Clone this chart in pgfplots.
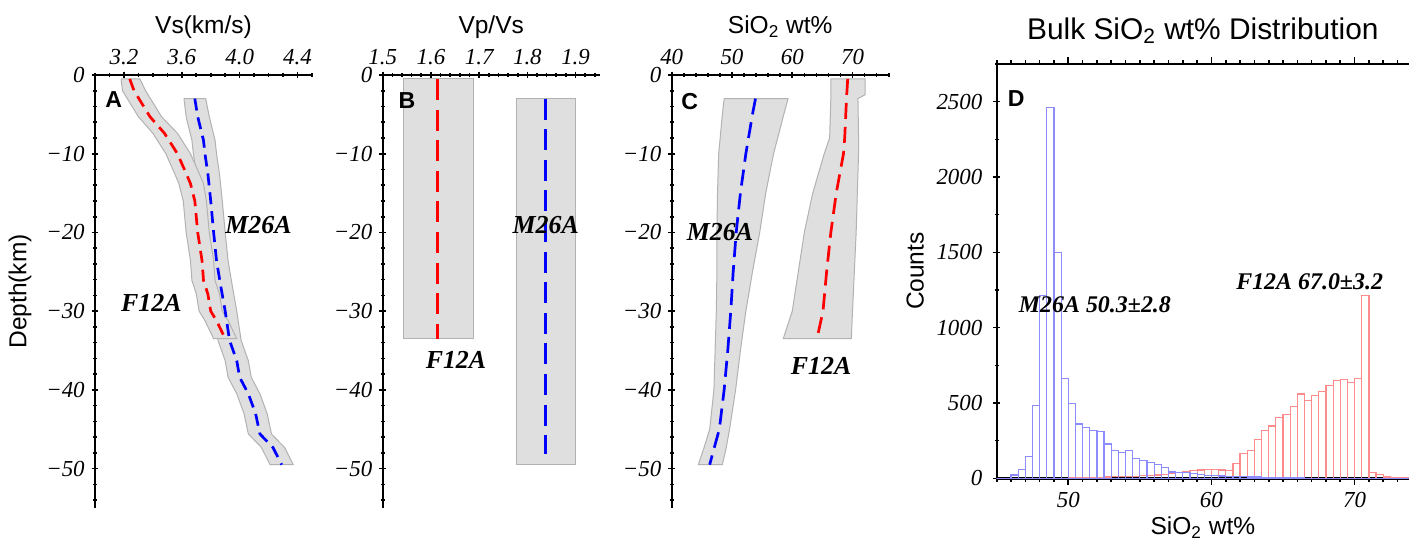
\documentclass[border=0pt]{standalone}
\usepackage{fontspec}
\setmainfont{Liberation Serif}
\setsansfont{Liberation Sans}
\usepackage{pgfplots}
\pgfplotsset{compat=1.18}
\newcommand\samp{\fontsize{13}{13}\selectfont\bfseries\itshape}
\newcommand\plet{\sffamily\bfseries\fontsize{11.6}{12}\selectfont}
\newcommand\labfont{\sffamily\fontsize{12.3}{14}\selectfont}
\pgfplotsset{
  common/.style={
    scale only axis,
    tick align=outside,
    major tick length=3.3bp, minor tick length=1.8bp,
    every tick/.style={black, line width=0.8bp},
    ticklabel style={font=\fontsize{11.5}{11.5}\selectfont\itshape},
    clip=false,
  },
  panel/.style={
    common,
    width=108.5bp, height=216.5bp,
    axis x line=top, axis y line=left,
    axis line style={line width=1.2bp, -},
    ymin=-55, ymax=0,
    ytick={0,-10,-20,-30,-40,-50},
    yticklabels={0,−10,−20,−30,−40,−50},
    minor ytick={0,-2,...,-54},
    every axis x label/.style={at={(rel axis cs:0.5,1)}, anchor=base, yshift=20.5bp, font=\labfont},
  },
}
\begin{document}
\begin{tikzpicture}
\useasboundingbox (0,0) rectangle (704.5bp,270.5bp);
% ---------------- A
\begin{axis}[panel, at={(47.5bp,16.5bp)}, anchor=south west,
  xmin=3.0, xmax=4.5,
  xtick={3.2,3.6,4.0,4.4}, xticklabels={3.2,3.6,4.0,4.4},
  minor xtick={3.0,3.1,3.3,3.4,3.5,3.7,3.8,3.9,4.1,4.2,4.3,4.5},
  xlabel={Vs(km/s)}, ylabel={Depth(km)},
  every axis y label/.style={at={([xshift=-37.5bp]rel axis cs:0,0.5)}, rotate=90, anchor=center, font=\labfont},
]
\addplot[fill=gray!25, draw=gray!60, line width=0.5bp] coordinates {
(3.615,-3)(3.63,-5.3)(3.67,-8.3)(3.68,-10)(3.70,-12.5)(3.72,-16)(3.74,-20)(3.76,-23.6)(3.79,-26.9)(3.82,-30)(3.85,-33.7)(3.90,-36.3)(3.92,-38.4)(3.98,-40.5)(4.03,-43)(4.06,-45.6)(4.15,-47.3)(4.21,-49.5)
(4.37,-49.5)(4.31,-47.3)(4.22,-45.6)(4.19,-43)(4.14,-40.5)(4.08,-38.4)(4.06,-36.3)(4.01,-33.7)(3.98,-30)(3.95,-26.9)(3.92,-23.6)(3.90,-20)(3.88,-16)(3.86,-12.5)(3.84,-10)(3.83,-8.3)(3.79,-5.3)(3.765,-3)(3.615,-3)};
\addplot[fill=gray!25, draw=gray!60, line width=0.5bp] coordinates {
(3.18,-0.5)(3.19,-2)(3.23,-3.2)(3.30,-5.3)(3.40,-7.4)(3.49,-10)(3.55,-12.5)(3.58,-13.8)(3.61,-16)(3.63,-20)(3.66,-23.6)(3.67,-26.1)(3.70,-27.8)(3.72,-30)(3.76,-31.2)(3.82,-33.5)
(3.98,-33.5)(3.92,-31.2)(3.88,-30)(3.86,-27.8)(3.83,-26.1)(3.82,-23.6)(3.79,-20)(3.77,-16)(3.75,-13.8)(3.72,-12.5)(3.66,-10)(3.57,-7.4)(3.46,-5.3)(3.39,-3.2)(3.35,-2)(3.31,-0.5)(3.18,-0.5)};
\addplot[blue, line width=1.35bp, dash pattern=on 6bp off 3.5bp] coordinates {
(3.69,-3)(3.71,-5.3)(3.75,-8.3)(3.76,-10)(3.78,-12.5)(3.80,-16)(3.82,-20)(3.84,-23.6)(3.87,-26.9)(3.90,-30)(3.93,-33.7)(3.98,-36.3)(4.00,-38.4)(4.06,-40.5)(4.11,-43)(4.14,-45.6)(4.23,-47.3)(4.29,-49.5)};
\addplot[red, line width=1.35bp, dash pattern=on 6bp off 3.5bp] coordinates {
(3.24,-0.5)(3.27,-2)(3.31,-3.2)(3.38,-5.3)(3.48,-7.4)(3.57,-10)(3.63,-12.5)(3.66,-13.8)(3.69,-16)(3.71,-20)(3.74,-23.6)(3.75,-26.1)(3.78,-27.8)(3.80,-30)(3.84,-31.2)(3.90,-33.5)};
\node[font=\samp] at (axis cs:4.13,-19) {M26A};
\node[font=\samp] at (axis cs:3.39,-29) {F12A};
\node[font=\plet, anchor=north west, inner sep=0] at (rel axis cs:0.046,0.963) {A};
\end{axis}
% ---------------- B
\begin{axis}[panel, at={(191.35bp,16.5bp)}, anchor=south west,
  xmin=1.5, xmax=1.95,
  xtick={1.5,1.6,1.7,1.8,1.9}, xticklabels={1.5,1.6,1.7,1.8,1.9},
  minor xtick={1.52,1.54,1.56,1.58,1.62,1.64,1.66,1.68,1.72,1.74,1.76,1.78,1.82,1.84,1.86,1.88,1.92,1.94},
  xlabel={Vp/Vs},
]
\addplot[fill=gray!25, draw=gray!60, line width=0.5bp] coordinates {(1.543,-0.5)(1.689,-0.5)(1.689,-33.5)(1.543,-33.5)(1.543,-0.5)};
\addplot[fill=gray!25, draw=gray!60, line width=0.5bp] coordinates {(1.777,-3)(1.899,-3)(1.899,-49.5)(1.777,-49.5)(1.777,-3)};
\addplot[red, line width=1.35bp, dash pattern=on 10.5bp off 4.8bp] coordinates {(1.614,-0.5)(1.614,-33.5)};
\addplot[blue, line width=1.35bp, dash pattern=on 10.5bp off 4.8bp] coordinates {(1.838,-3)(1.838,-48.2)};
\node[font=\samp] at (axis cs:1.838,-19.1) {M26A};
\node[font=\samp] at (axis cs:1.652,-36.2) {F12A};
\node[font=\plet, anchor=north west, inner sep=0] at (rel axis cs:0.072,0.960) {B};
\end{axis}
% ---------------- C
\begin{axis}[panel, at={(335.85bp,16.5bp)}, anchor=south west,
  xmin=40, xmax=76,
  xtick={40,50,60,70}, xticklabels={40,50,60,70},
  minor xtick={40,42,...,76},
  xlabel={SiO\textsubscript{2} wt\%},
]
\addplot[fill=gray!25, draw=gray!60, line width=0.5bp] coordinates {
(48.7,-3)(48.4,-5)(47.8,-10)(47.6,-15)(47.5,-20)(47.5,-25)(47.4,-30)(47.2,-35)(47.0,-40)(46.3,-45)(45.3,-47.5)(44.4,-49.5)
(48.4,-49.5)(49.0,-47.5)(49.6,-45)(50.6,-40)(51.4,-35)(52.3,-30)(53.4,-25)(54.6,-20)(55.6,-15)(56.9,-10)(58.6,-5)(59.3,-3)(48.7,-3)};
\addplot[fill=gray!25, draw=gray!60, line width=0.5bp] coordinates {
(66.4,-0.5)(66.4,-3)(66.2,-8)(65.3,-10)(63.4,-15)(62.0,-20)(61.0,-25)(60.0,-30)(58.5,-33.5)
(69.8,-33.5)(70.0,-30)(70.3,-25)(70.6,-20)(70.8,-15)(71.0,-10)(71.0,-8)(70.9,-3)(72.1,-2.5)(72.1,-0.5)(66.4,-0.5)};
\addplot[blue, line width=1.35bp, dash pattern=on 8bp off 4bp] coordinates {
(53.9,-3)(53.4,-5)(52.3,-10)(51.4,-15)(50.7,-20)(50.2,-25)(49.8,-30)(49.3,-35)(48.7,-40)(47.9,-45)(47.0,-47.5)(46.3,-49.5)};
\addplot[red, line width=1.35bp, dash pattern=on 8bp off 4bp] coordinates {
(69.2,-0.5)(69.0,-3)(68.7,-8)(68.5,-10)(67.3,-15)(66.4,-20)(65.7,-25)(65.1,-30)(64.1,-33.5)};
\node[font=\samp] at (axis cs:48.0,-20) {M26A};
\node[font=\samp] at (axis cs:64.8,-37) {F12A};
\node[font=\plet, anchor=north west, inner sep=0] at (rel axis cs:0.043,0.959) {C};
\end{axis}
% ---------------- D
\begin{axis}[common, at={(498.35bp,31.35bp)}, anchor=south west,
  width=206.15bp, height=207.15bp,
  axis x line=box, axis y line=left,
  axis line style={line width=1.2bp, -},
  xmin=45, xmax=73.8, ymin=0, ymax=2750,
  xtick={50,60,70}, xticklabels={50,60,70},
  minor xtick={45,46,...,73},
  ytick={0,500,1000,1500,2000,2500}, yticklabels={0,500,1000,1500,2000,2500},
  yticklabel style={xshift=-2bp},
  minor ytick={250,750,1250,1750,2250,2750},
  xlabel={SiO\textsubscript{2} wt\%}, ylabel={Counts},
  every axis x label/.style={at={(rel axis cs:0.5,0)}, anchor=base, yshift=-28.3bp, font=\labfont},
  every axis y label/.style={at={([xshift=-40.8bp]rel axis cs:0,0.5)}, rotate=90, anchor=center, font=\labfont},
  title={Bulk SiO\textsubscript{2} wt\% Distribution},
  every axis title shift=0pt,
  title style={font=\sffamily\fontsize{15}{17}\selectfont, at={(rel axis cs:0.5,1)}, anchor=base, yshift=12.4bp},
]
\addplot[ybar interval, draw=red!45, fill=none, line width=0.6bp] coordinates {
(45.0,0)(45.5,0)(46.0,0)(46.5,0)(47.0,0)(47.5,0)(48.0,0)(48.5,0)(49.0,0)(49.5,0)
(50.0,3)(50.5,4)(51.0,5)(51.5,6)(52.0,7)(52.5,8)(53.0,10)(53.5,11)(54.0,12)(54.5,14)
(55.0,16)(55.5,18)(56.0,22)(56.5,26)(57.0,32)(57.5,38)(58.0,45)(58.5,50)(59.0,55)(59.5,60)
(60.0,57)(60.5,55)(61.0,52)(61.5,100)(62.0,162)(62.5,186)(63.0,259)(63.5,319)(64.0,347)(64.5,405)
(65.0,425)(65.5,474)(66.0,560)(66.5,518)(67.0,549)(67.5,575)(68.0,617)(68.5,651)(69.0,657)(69.5,637)
(70.0,664)(70.5,1215)(71.0,40)(71.5,24)(72.0,9)(72.5,7)(73.0,4)(73.5,4)(74.0,4)};
\addplot[ybar interval, draw=blue!45, fill=none, line width=0.6bp] coordinates {
(45.0,0)(45.5,0)(46.0,22)(46.5,60)(47.0,144)(47.5,485)(48.0,1215)(48.5,2460)(49.0,1498)(49.5,660)
(50.0,498)(50.5,361)(51.0,339)(51.5,319)(52.0,312)(52.5,228)(53.0,186)(53.5,173)(54.0,186)(54.5,133)
(55.0,117)(55.5,106)(56.0,93)(56.5,73)(57.0,42)(57.5,40)(58.0,38)(58.5,33)(59.0,27)(59.5,20)
(60.0,18)(60.5,15)(61.0,13)(61.5,11)(62.0,11)(62.5,9)(63.0,9)(63.5,7)(64.0,5)(64.5,4)
(65.0,3)(65.5,2)(66.0,2)(66.5,1)(67.0,0)(67.5,0)(68.0,0)(68.5,0)(69.0,0)(69.5,0)
(70.0,0)(70.5,0)(71.0,0)(71.5,0)(72.0,0)(72.5,0)(73.0,0)(73.5,0)(74.0,0)};
\node[font=\fontsize{12}{12}\selectfont\bfseries\itshape] at (axis cs:51.86,1151) {M26A 50.3±2.8};
\node[font=\fontsize{12}{12}\selectfont\bfseries\itshape] at (axis cs:66.86,1305) {F12A 67.0±3.2};
\node[font=\plet, anchor=north west, inner sep=0] at (rel axis cs:0.026,0.936) {D};
\end{axis}
\end{tikzpicture}
\end{document}
